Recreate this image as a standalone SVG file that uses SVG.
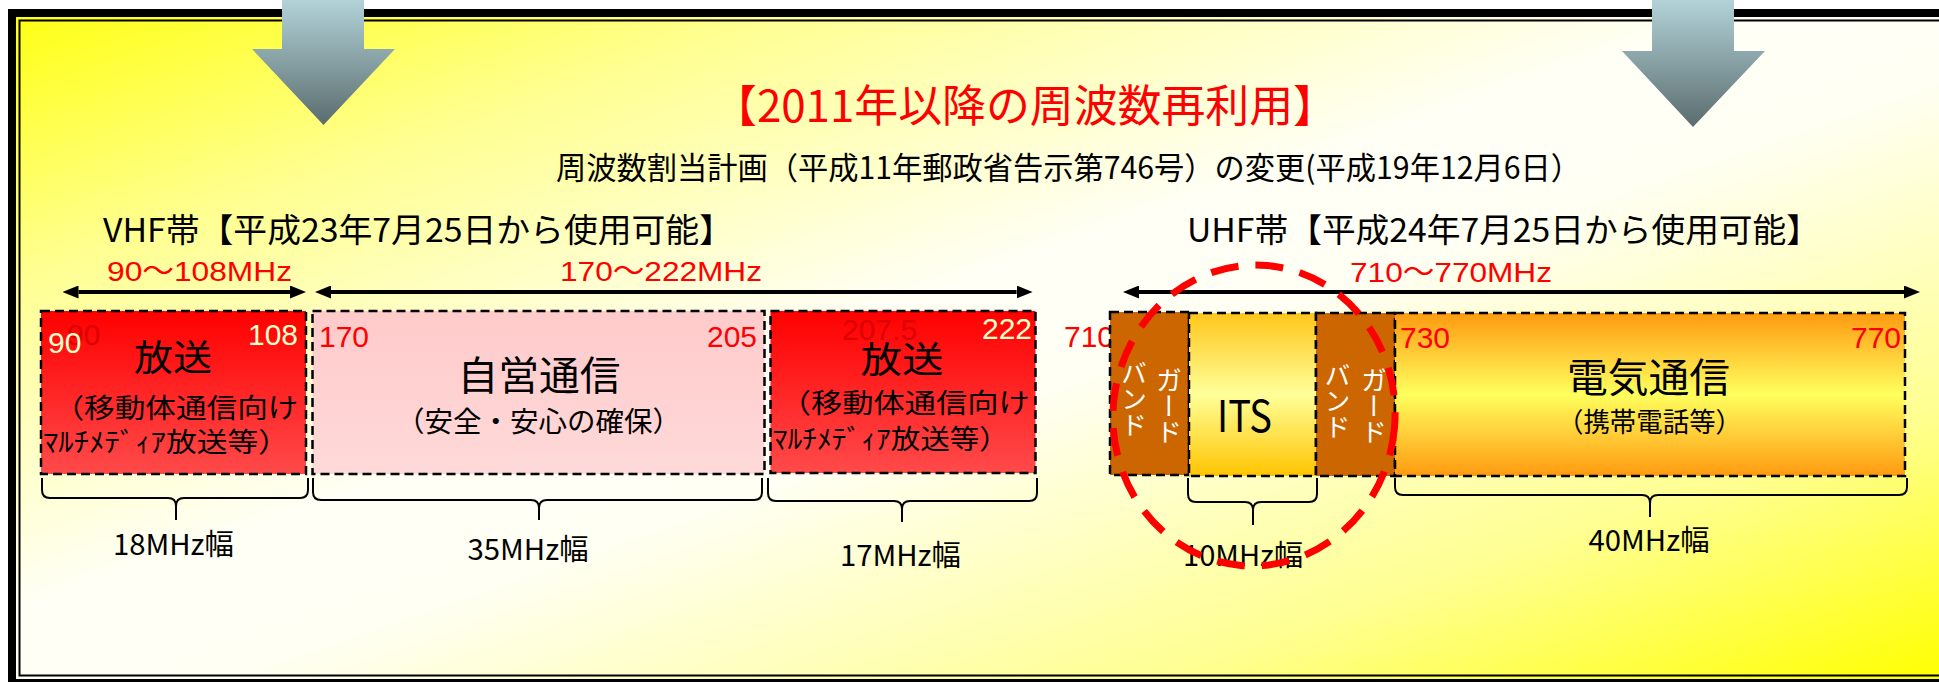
<svg xmlns="http://www.w3.org/2000/svg" width="1939" height="682" viewBox="0 0 1939 682">
<style>
.jp{font-family:"Noto Sans CJK JP","Noto Sans",sans-serif;}
.num{font-family:"Liberation Sans","Noto Sans CJK JP",sans-serif;}
.box{stroke:#000;stroke-width:2.5;stroke-dasharray:9 5;}
.brace{fill:none;stroke:#000;stroke-width:2;}
.dim{stroke:#000;stroke-width:4;fill:none;marker-start:url(#ah);marker-end:url(#ah);}
.red{fill:#FF0000;}
.cream{fill:#FFFFCC;}
.ghost{fill:#DD0000;}
.guardtxt{fill:#FFFFFF;font-size:26px;writing-mode:vertical-rl;}
</style>
<defs>
<linearGradient id="bg" x1="0" y1="0" x2="1" y2="1">
<stop offset="0" stop-color="#FFFF10"/>
<stop offset="0.2" stop-color="#FFFF90"/>
<stop offset="0.45" stop-color="#FFFFF6"/>
<stop offset="0.55" stop-color="#FFFFF4"/>
<stop offset="0.8" stop-color="#FFFF90"/>
<stop offset="1" stop-color="#FFFF00"/>
</linearGradient>
<linearGradient id="gArrow" x1="0" y1="0" x2="0" y2="1">
<stop offset="0" stop-color="#B2D3D8"/>
<stop offset="1" stop-color="#5A6C6E"/>
</linearGradient>
<linearGradient id="gRed" x1="0" y1="0" x2="0" y2="1">
<stop offset="0" stop-color="#FF0000"/>
<stop offset="1" stop-color="#FF4A4A"/>
</linearGradient>
<linearGradient id="gPink" x1="0" y1="0" x2="0" y2="1">
<stop offset="0" stop-color="#FFCACA"/>
<stop offset="1" stop-color="#FFD9D9"/>
</linearGradient>
<linearGradient id="gITS" x1="0" y1="0" x2="0" y2="1">
<stop offset="0" stop-color="#FFC61A"/>
<stop offset="0.5" stop-color="#FFFF99"/>
<stop offset="1" stop-color="#FFC400"/>
</linearGradient>
<linearGradient id="gTel" x1="0" y1="0" x2="0" y2="1">
<stop offset="0" stop-color="#FF9A10"/>
<stop offset="0.5" stop-color="#FFFF5E"/>
<stop offset="1" stop-color="#FF9A10"/>
</linearGradient>
<marker id="ah" viewBox="0 0 16 13" refX="0" refY="6.5" markerWidth="16" markerHeight="13" markerUnits="userSpaceOnUse" orient="auto-start-reverse">
<path d="M0,0 L16,6.5 L0,13 z" fill="#000"/>
</marker>
</defs>

<rect x="0" y="0" width="1939" height="682" fill="#FFFFFF"/>
<rect x="9" y="9" width="1930" height="673" fill="url(#bg)"/>

<g id="frame" fill="none" stroke="#000">
<rect x="12" y="13" width="2000" height="670" stroke-width="8"/>
<rect x="19.5" y="20.5" width="2000" height="655" stroke-width="2"/>
</g>

<g id="arrow-left">
<polygon points="282,0 364,0 364,49 395,49 323.5,125 252,49 282,49" fill="url(#gArrow)"/>
</g>
<g id="arrow-right">
<polygon points="1652,0 1734,0 1734,51 1765,51 1693,127 1622,51 1652,51" fill="url(#gArrow)"/>
</g>

<g id="title">
<text class="jp red" x="1025" y="122" font-size="44" text-anchor="middle" textLength="624" lengthAdjust="spacingAndGlyphs">【2011年以降の周波数再利用】</text>
</g>
<g id="subtitle">
<text class="jp" x="1068.5" y="179" font-size="31" text-anchor="middle" textLength="1025" lengthAdjust="spacingAndGlyphs">周波数割当計画（平成11年郵政省告示第746号）の変更(平成19年12月6日）</text>
</g>
<g id="vhf-heading">
<text class="jp" x="418" y="242" font-size="33" text-anchor="middle" textLength="630" lengthAdjust="spacingAndGlyphs">VHF帯【平成23年7月25日から使用可能】</text>
</g>
<g id="uhf-heading">
<text class="jp" x="1503.5" y="242" font-size="33" text-anchor="middle" textLength="633" lengthAdjust="spacingAndGlyphs">UHF帯【平成24年7月25日から使用可能】</text>
</g>

<g id="range-labels">
<text class="num red" x="199.5" y="281" font-size="28" text-anchor="middle" textLength="185" lengthAdjust="spacingAndGlyphs">90～108MHz</text>
<text class="num red" x="661" y="281" font-size="28" text-anchor="middle" textLength="202" lengthAdjust="spacingAndGlyphs">170～222MHz</text>
<text class="num red" x="1451" y="282" font-size="28" text-anchor="middle" textLength="202" lengthAdjust="spacingAndGlyphs">710～770MHz</text>
</g>

<g id="box-vhf-broadcast-1">
<rect class="box" x="41" y="311" width="265" height="163" fill="url(#gRed)"/>
<text class="num ghost" x="67" y="345" font-size="30">90</text>
<text class="num cream" x="48" y="353" font-size="30">90</text>
<text class="num cream" x="248" y="345" font-size="30">108</text>
<text class="jp" x="173" y="371" font-size="36" text-anchor="middle" textLength="78" lengthAdjust="spacingAndGlyphs">放送</text>
<text class="jp" x="176" y="418" font-size="27" text-anchor="middle" textLength="245" lengthAdjust="spacingAndGlyphs">（移動体通信向け</text>
<text class="jp" x="166" y="452" font-size="27" text-anchor="middle" textLength="246" lengthAdjust="spacingAndGlyphs">ﾏﾙﾁﾒﾃﾞｨｱ放送等）</text>
</g>

<g id="box-vhf-private">
<rect class="box" x="312.5" y="311" width="452" height="163" fill="url(#gPink)"/>
<text class="num red" x="319" y="347" font-size="30">170</text>
<text class="num red" x="707" y="347" font-size="30">205</text>
<text class="jp" x="539" y="390" font-size="40" text-anchor="middle" textLength="163" lengthAdjust="spacingAndGlyphs">自営通信</text>
<text class="jp" x="538.5" y="432" font-size="28" text-anchor="middle" textLength="285" lengthAdjust="spacingAndGlyphs">（安全・安心の確保）</text>
</g>

<g id="box-vhf-broadcast-2">
<rect class="box" x="770.5" y="311" width="265" height="162" fill="url(#gRed)"/>
<text class="num ghost" x="842" y="340" font-size="30">207.5</text>
<text class="num cream" x="982" y="339" font-size="30">222</text>
<text class="jp" x="902" y="373" font-size="36" text-anchor="middle" textLength="83" lengthAdjust="spacingAndGlyphs">放送</text>
<text class="jp" x="904.7" y="413" font-size="27" text-anchor="middle" textLength="250" lengthAdjust="spacingAndGlyphs">（移動体通信向け</text>
<text class="jp" x="890.8" y="449" font-size="27" text-anchor="middle" textLength="236" lengthAdjust="spacingAndGlyphs">ﾏﾙﾁﾒﾃﾞｨｱ放送等）</text>
</g>

<g id="label-710">
<text class="num red" x="1064" y="347" font-size="30">710</text>
</g>

<g id="box-guard-1">
<rect class="box" x="1110" y="312" width="79" height="163" fill="#CC6600"/>
<text class="jp guardtxt" x="1169" y="367">ガード</text>
<text class="jp guardtxt" x="1134" y="360">バンド</text>
</g>

<g id="box-its">
<rect class="box" x="1189" y="313" width="127" height="163" fill="url(#gITS)"/>
<text class="jp" x="1244.5" y="432" font-size="44" text-anchor="middle" textLength="55" lengthAdjust="spacingAndGlyphs">ITS</text>
</g>

<g id="box-guard-2">
<rect class="box" x="1316" y="313" width="79" height="163" fill="#CC6600"/>
<text class="jp guardtxt" x="1374" y="367">ガード</text>
<text class="jp guardtxt" x="1337.5" y="362">バンド</text>
</g>

<g id="box-telecom">
<rect class="box" x="1395" y="313" width="510" height="163" fill="url(#gTel)"/>
<text class="num red" x="1400" y="348" font-size="30">730</text>
<text class="num red" x="1851" y="348" font-size="30">770</text>
<text class="jp" x="1648.5" y="392" font-size="40" text-anchor="middle" textLength="163" lengthAdjust="spacingAndGlyphs">電気通信</text>
<text class="jp" x="1649.5" y="432" font-size="27" text-anchor="middle" textLength="185" lengthAdjust="spacingAndGlyphs">（携帯電話等）</text>
</g>

<g id="connectors">
<path class="dim" d="M78.5,292 L290,292"/>
<path class="dim" d="M331,292 L1016.6,292"/>
<path class="dim" d="M1139,292 L1904,292"/>
<path class="brace" d="M42,478 L42,490 Q42,498 50,498 L168,498 Q176,498 176,506 L176,520 M176,506 Q176,498 184,498 L300,498 Q308,498 308,490 L308,478"/>
<path class="brace" d="M313,478 L313,492 Q313,500 321,500 L531,500 Q539,500 539,508 L539,520 M539,508 Q539,500 547,500 L754,500 Q762,500 762,492 L762,478"/>
<path class="brace" d="M768,478 L768,493 Q768,501 776,501 L894,501 Q902,501 902,509 L902,522 M902,509 Q902,501 910,501 L1029,501 Q1037,501 1037,493 L1037,478"/>
<path class="brace" d="M1188,478 L1188,494 Q1188,502 1196,502 L1245,502 Q1253,502 1253,510 L1253,525 M1253,510 Q1253,502 1261,502 L1309,502 Q1317,502 1317,494 L1317,478"/>
<path class="brace" d="M1395,478 L1395,487 Q1395,495 1403,495 L1642,495 Q1650,495 1650,503 L1650,517 M1650,503 Q1650,495 1658,495 L1899,495 Q1907,495 1907,487 L1907,478"/>
</g>

<g id="width-labels">
<text class="jp" x="173.4" y="555" font-size="29" text-anchor="middle" textLength="121" lengthAdjust="spacingAndGlyphs">18MHz幅</text>
<text class="jp" x="528" y="560" font-size="29" text-anchor="middle" textLength="121" lengthAdjust="spacingAndGlyphs">35MHz幅</text>
<text class="jp" x="900.4" y="566" font-size="29" text-anchor="middle" textLength="121" lengthAdjust="spacingAndGlyphs">17MHz幅</text>
<text class="jp" x="1243" y="566" font-size="29" text-anchor="middle" textLength="120" lengthAdjust="spacingAndGlyphs">10MHz幅</text>
<text class="jp" x="1649" y="551" font-size="29" text-anchor="middle" textLength="121" lengthAdjust="spacingAndGlyphs">40MHz幅</text>
</g>

<g id="highlight-ellipse">
<ellipse cx="1254" cy="415.5" rx="141" ry="150.5" transform="rotate(5 1254 415.5)" fill="none" stroke="#FF0000" stroke-width="7" stroke-dasharray="28 17"/>
</g>
</svg>
